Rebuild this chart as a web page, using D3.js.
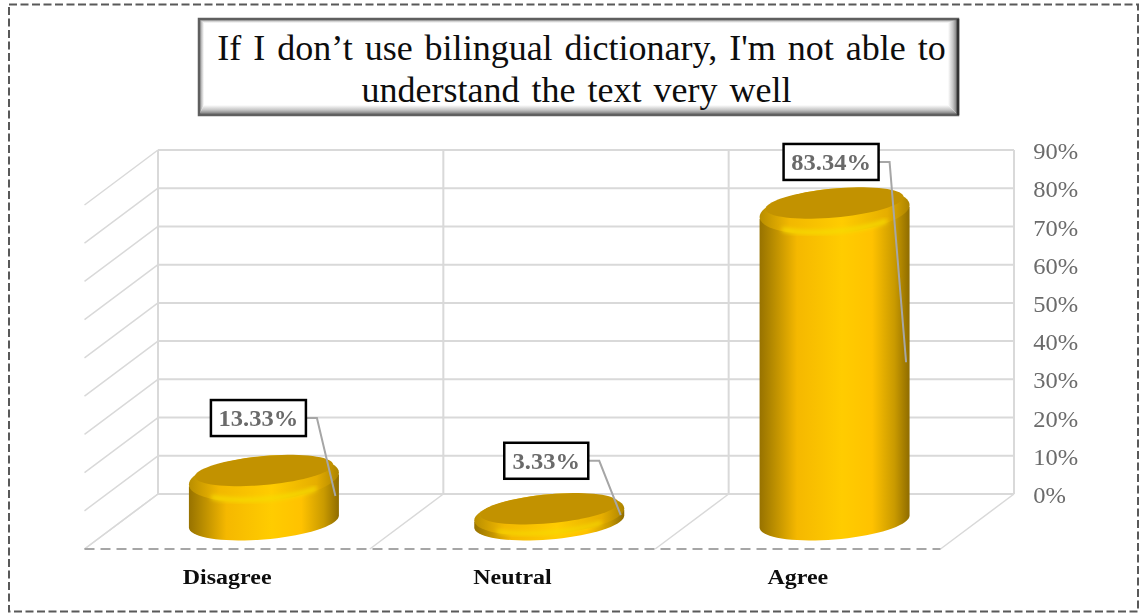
<!DOCTYPE html>
<html>
<head>
<meta charset="utf-8">
<script src="https://cdn.jsdelivr.net/npm/d3@7"></script>
<style>
  html, body { margin: 0; padding: 0; background: #fff; overflow: hidden; }
  svg { display: block; filter: blur(0.35px); }
  text { font-family: "Liberation Serif", serif; }
</style>
</head>
<body>
<div id="chart"></div>
<script>
// Chart data
const categories = ['Disagree', 'Neutral', 'Agree'];
const percentValues = [13.33, 3.33, 83.34];
const percentLabels = ['13.33%', '3.33%', '83.34%'];
const axisTicks = [0, 10, 20, 30, 40, 50, 60, 70, 80, 90];
const titleLines = ['If I don’t use bilingual dictionary, I\'m not able to', 'understand the text very well'];

const width = 1141, height = 613;

// Back wall of the 3D plot, and how far the floor comes forward
const wall = { left: 158, right: 1014, top: 150, bottom: 494 };
const depth = { x: -73.5, y: 55 };

const x = d3.scaleBand().domain(categories).range([wall.left, wall.right]);
const y = d3.scaleLinear().domain([0, 90]).range([wall.bottom, wall.top]);

const svg = d3.select('#chart').append('svg')
    .attr('width', width)
    .attr('height', height);

const defs = svg.append('defs');

function linearGradient(id, stops, x2 = 1, y2 = 0) {
    const g = defs.append('linearGradient')
        .attr('id', id)
        .attr('x1', 0).attr('y1', 0)
        .attr('x2', x2).attr('y2', y2);
    stops.forEach(s => g.append('stop').attr('offset', s[0]).attr('stop-color', s[1]));
}

linearGradient('cylinderBody', [
    [0, '#977200'], [0.08, '#b48900'], [0.25, '#f5b800'], [0.55, '#ffcc00'],
    [0.75, '#ffc200'], [0.9, '#c99a00'], [1, '#8f6c00']
]);
linearGradient('cylinderRim', [
    [0, '#b98e00'], [0.2, '#f2b800'], [0.55, '#ffcc00'], [0.85, '#e6ae00'], [1, '#ad8400']
]);
linearGradient('bevelBottom', [[0, '#ffffff'], [0.5, '#c4c4c4'], [1, '#666666']], 0, 1);
linearGradient('bevelRight', [[0, '#ffffff'], [0.5, '#c4c4c4'], [1, '#666666']], 1, 0);
linearGradient('bevelLeft', [[0, '#808080'], [1, '#ffffff']], 1, 0);
linearGradient('bevelTop', [[0, '#8a8a8a'], [1, '#ffffff']], 0, 1);

const softEdge = defs.append('filter').attr('id', 'softEdge')
    .attr('x', '-10%').attr('y', '-30%').attr('width', '120%').attr('height', '160%');
softEdge.append('feGaussianBlur').attr('stdDeviation', 2);

// Text in the reference is stretched sideways a little
const stretch = 1.09;
function stretchedText(parent, px, py, str, size) {
    return parent.append('text')
        .attr('transform', `translate(${px},${py}) scale(${stretch},1)`)
        .style('font-size', size + 'px')
        .text(str);
}

// Outer dashed frame
svg.append('rect')
    .attr('x', 9).attr('y', 4.5)
    .attr('width', 1129).attr('height', 607)
    .attr('fill', 'none')
    .attr('stroke', '#595959')
    .attr('stroke-width', 2)
    .attr('stroke-dasharray', '8,3.5');

// Title box
const box = { x: 199, y: 19, w: 759, h: 96, bevel: 10 };
const title = svg.append('g');
title.append('rect')
    .attr('x', box.x).attr('y', box.y).attr('width', box.w).attr('height', box.h)
    .attr('fill', '#fff');
const bx2 = box.x + box.w, by2 = box.y + box.h, b = box.bevel;
const bevels = [
    { fill: 'bevelTop', pts: [[box.x, box.y], [bx2, box.y], [bx2 - 4, box.y + 4], [box.x + 4, box.y + 4]] },
    { fill: 'bevelLeft', pts: [[box.x, box.y], [box.x + 5, box.y + 4], [box.x + 5, by2 - b], [box.x, by2]] },
    { fill: 'bevelRight', pts: [[bx2, box.y], [bx2, by2], [bx2 - b, by2 - b], [bx2 - b, box.y + 4]] },
    { fill: 'bevelBottom', pts: [[box.x, by2], [bx2, by2], [bx2 - b, by2 - b], [box.x + 5, by2 - b]] }
];
title.selectAll('polygon').data(bevels).enter().append('polygon')
    .attr('points', d => d.pts.join(' '))
    .attr('fill', d => `url(#${d.fill})`);
title.append('rect')
    .attr('x', box.x).attr('y', box.y).attr('width', box.w).attr('height', box.h)
    .attr('fill', 'none')
    .attr('stroke', '#5f5f5f')
    .attr('stroke-width', 2.5);
title.append('line')
    .attr('x1', bx2).attr('x2', bx2)
    .attr('y1', box.y).attr('y2', by2)
    .attr('stroke', '#333')
    .attr('stroke-width', 2.5);
titleLines.forEach((line, i) => {
    title.append('text')
        .attr('x', (box.x + bx2) / 2 + (i === 0 ? 3 : -2))
        .attr('y', 60 + i * 42)
        .attr('text-anchor', 'middle')
        .style('font-size', '36px')
        .style('word-spacing', '3px')
        .attr('fill', '#0d0d0d')
        .text(line);
});

// Walls and floor
const grid = svg.append('g')
    .attr('fill', 'none')
    .attr('stroke', '#d9d9d9')
    .attr('stroke-width', 2);

grid.selectAll('.hline').data(axisTicks).enter().append('line')
    .attr('class', 'hline')
    .attr('x1', wall.left).attr('x2', wall.right)
    .attr('y1', d => y(d)).attr('y2', d => y(d));

grid.selectAll('.side').data(axisTicks).enter().append('line')
    .attr('class', 'side')
    .attr('stroke-width', 1.5)
    .attr('x1', wall.left).attr('x2', wall.left + depth.x)
    .attr('y1', d => y(d)).attr('y2', d => y(d) + depth.y);

const dividers = x.domain().map(c => x(c)).concat(wall.right);
grid.selectAll('.vline').data(dividers).enter().append('line')
    .attr('class', 'vline')
    .attr('x1', d => d).attr('x2', d => d)
    .attr('y1', wall.top).attr('y2', wall.bottom);

grid.selectAll('.floor').data(dividers).enter().append('line')
    .attr('class', 'floor')
    .attr('stroke-width', 1.5)
    .attr('x1', d => d).attr('x2', d => d + depth.x)
    .attr('y1', wall.bottom).attr('y2', wall.bottom + depth.y);

svg.append('line')
    .attr('x1', wall.left + depth.x).attr('x2', wall.right + depth.x)
    .attr('y1', wall.bottom + depth.y).attr('y2', wall.bottom + depth.y)
    .attr('stroke', '#a6a6a6')
    .attr('stroke-width', 2)
    .attr('stroke-dasharray', '10,6');

// Value axis on the right
const yAxis = svg.append('g')
    .attr('transform', `translate(${wall.right + 16},0)`)
    .call(d3.axisRight(y).tickValues(axisTicks).tickSize(0).tickFormat(d => d + '%'));
yAxis.select('.domain').remove();
yAxis.selectAll('text')
    .style('font-family', '"Liberation Serif", serif')
    .style('font-size', '22.5px')
    .attr('fill', '#6b6b6b')
    .attr('transform', `scale(${stretch},1)`)
    .attr('dy', '0.38em');

// Category axis, sits under the front edge of the floor
const xAxis = svg.append('g')
    .attr('transform', `translate(${depth.x},568)`)
    .call(d3.axisBottom(x).tickSize(0).tickPadding(0));
xAxis.select('.domain').remove();
xAxis.selectAll('text')
    .style('font-family', '"Liberation Serif", serif')
    .style('font-size', '22px')
    .style('font-weight', 'bold')
    .attr('fill', '#0d0d0d')
    .attr('transform', `scale(${stretch},1)`)
    .attr('dy', '0.71em');
xAxis.selectAll('.tick').attr('transform', d => `translate(${x(d) + x.bandwidth() / 2},0)`);

// Sheared ellipse, the way the 3D perspective draws a circle on the floor
function ellipsePoint(cx, cy, a, b, s, t) {
    return [cx + a * Math.cos(t), cy + b * Math.sin(t) - s * Math.cos(t)];
}
const line = d3.line();
function ellipsePath(cx, cy, a, b, s) {
    return line(d3.range(0, 73).map(i => ellipsePoint(cx, cy, a, b, s, i / 72 * 2 * Math.PI))) + 'Z';
}

const radius = 75, shear = 6, floorB = 18, capB = 14.5;
const baseY = y(0) + depth.y / 2;

// Hand placed label boxes, offset from the top of each cylinder
const labelDx = [-5.5, -3, -3.5];
const labelDy = [-52.5, -48, -41];

const bars = svg.selectAll('.bar')
    .data(categories.map((c, i) => ({ c, i, v: percentValues[i], label: percentLabels[i] })))
    .enter().append('g')
    .attr('class', 'bar');

bars.each(function(d) {
    const g = d3.select(this);
    const cx = x(d.c) + x.bandwidth() / 2 + depth.x / 2;
    const topY = baseY - (y(0) - y(d.v));
    const shoulder = Math.min(10, (baseY - topY) * 0.55);

    // side of the cylinder: front half of the base plus straight sides
    const front = d3.range(0, 37).map(i => ellipsePoint(cx, baseY, radius, floorB, shear, i / 36 * Math.PI));
    const bodyPts = front.concat([
        ellipsePoint(cx, topY + shoulder, radius, floorB, shear, Math.PI),
        ellipsePoint(cx, topY + shoulder, radius, floorB, shear, 0)
    ]);
    g.append('path')
        .attr('d', line(bodyPts) + 'Z')
        .attr('fill', 'url(#cylinderBody)');

    // rounded rim, then the soft highlight and the flat dark top
    const rimY = topY + shoulder * 0.8;
    const rimB = capB + shoulder * 0.8;
    g.append('path')
        .attr('d', ellipsePath(cx, rimY, radius, rimB, shear))
        .attr('fill', 'url(#cylinderRim)');
    const rimFront = d3.range(45, 136).map(i => ellipsePoint(cx, rimY, radius - 3, rimB - 2, shear, i / 180 * Math.PI));
    g.append('path')
        .attr('d', line(rimFront))
        .attr('fill', 'none')
        .attr('stroke', '#f6dc00')
        .attr('stroke-width', 1 + shoulder * 0.3)
        .attr('stroke-linecap', 'round')
        .attr('filter', 'url(#softEdge)');
    g.append('path')
        .attr('d', ellipsePath(cx, topY, radius - 6, capB, shear))
        .attr('fill', '#c29200');

    // leader line and label box
    const midY = (topY + baseY) / 2;
    const boxW = d.label.length > 5 ? 95 : 84;
    const boxH = 36;
    const boxCx = cx + labelDx[d.i];
    const boxCy = topY + labelDy[d.i];
    g.append('polyline')
        .attr('points', [[boxCx + boxW / 2, boxCy], [boxCx + boxW / 2 + 11, boxCy], [cx + 71.5, midY]].join(' '))
        .attr('fill', 'none')
        .attr('stroke', '#a6a6a6')
        .attr('stroke-width', 2);
    g.append('rect')
        .attr('x', boxCx - boxW / 2).attr('y', boxCy - boxH / 2)
        .attr('width', boxW).attr('height', boxH)
        .attr('fill', '#fff')
        .attr('stroke', '#000')
        .attr('stroke-width', 2.5);
    stretchedText(g, boxCx, boxCy + 8, d.label, 22.5)
        .attr('text-anchor', 'middle')
        .style('font-weight', 'bold')
        .attr('fill', '#6a6a6a');
});
</script>
</body>
</html>
